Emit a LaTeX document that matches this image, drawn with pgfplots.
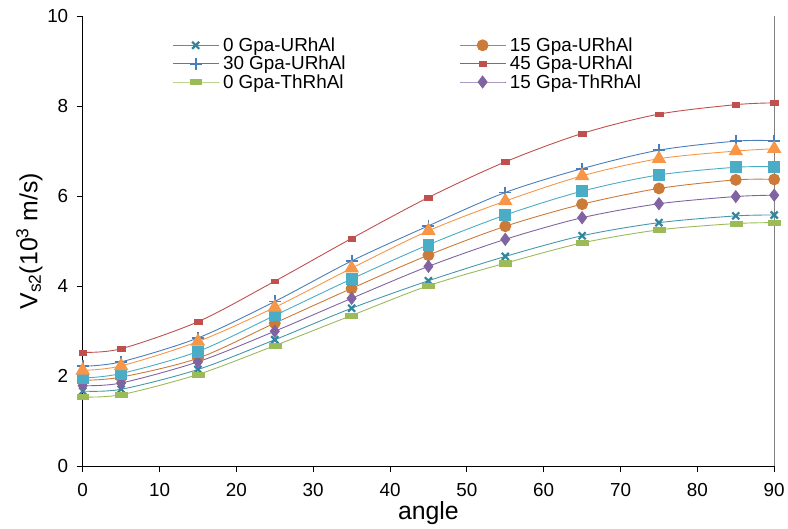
\documentclass[border=0pt]{standalone}
\usepackage{fontspec}
\setmainfont{Liberation Sans}
\usepackage{pgfplots}
\pgfplotsset{compat=1.18}

\definecolor{cTealL}{RGB}{70,150,172}
\definecolor{cTealM}{RGB}{49,133,156}
\definecolor{cBrown}{RGB}{204,122,56}
\definecolor{cBlue}{RGB}{74,126,187}
\definecolor{cRed}{RGB}{192,80,77}
\definecolor{cGreen}{RGB}{155,187,89}
\definecolor{cPurple}{RGB}{128,100,162}
\definecolor{cAqua}{RGB}{75,172,198}
\definecolor{cOrange}{RGB}{247,150,70}

\begin{document}
\begin{tikzpicture}
\begin{axis}[
  scale only axis,
  width=694bp, height=452bp,
  xmin=0, xmax=90, ymin=0, ymax=10,
  xtick={0,10,...,90}, ytick={0,2,...,10},
  axis x line*=bottom, axis y line*=left,
  axis line style={black, line width=0.8bp},
  tick style={black, line width=0.8bp},
  tick align=outside, major tick length=6bp,
  extra x ticks={90}, extra x tick labels={},
  extra x tick style={grid=major, major grid style={gray, line width=1bp}, major tick length=0pt},
  /pgf/number format/assume math mode=true,
  tick label style={font=\fontsize{19}{21}\selectfont},
  yticklabel style={xshift=-5bp},
  xticklabel style={yshift=-8bp},
  label style={font=\fontsize{25}{27}\selectfont},
  xlabel={angle},
  ylabel={V\textsubscript{s2}(10\textsuperscript{3} m/s)},
  xlabel style={yshift=8bp},
  ylabel style={yshift=-2bp},
  every axis plot/.append style={smooth, line width=0.9bp},
  legend columns=2,
  legend cell align=left,
  legend style={draw=none, fill=none, at={(0.125,0.96)}, anchor=north west,
    font=\fontsize{19}{20}\selectfont,
    nodes={inner xsep=4bp, inner ysep=1.6bp},
    /tikz/every even column/.append style={column sep=110bp}},
  legend image code/.code={\draw[mark repeat=2, mark phase=2] plot coordinates {(0bp,0bp) (23bp,0bp) (46bp,0bp)};},
]
% 0 Gpa-URhAl
\addplot[color=cTealL, mark=x, mark size=5bp, mark options={color=cTealM, line width=2.2bp}] coordinates {
 (0,1.67) (5,1.71) (15,2.15) (25,2.81) (35,3.51) (45,4.12) (55,4.66) (65,5.12) (75,5.41) (85,5.56) (90,5.58)};
\addlegendentry{0 Gpa-URhAl}
% 15 Gpa-URhAl
\addplot[color=cBrown, mark=*, mark size=5.5bp, mark options={fill=cBrown, draw=cBrown}] coordinates {
 (0,1.91) (5,1.98) (15,2.40) (25,3.18) (35,3.95) (45,4.69) (55,5.33) (65,5.82) (75,6.17) (85,6.36) (90,6.37)};
\addlegendentry{15 Gpa-URhAl}
% 30 Gpa-URhAl
\addplot[color=cBlue, mark=+, mark size=6bp, mark options={line width=1.8bp}] coordinates {
 (0,2.22) (5,2.32) (15,2.85) (25,3.66) (35,4.56) (45,5.34) (55,6.08) (65,6.61) (75,7.02) (85,7.22) (90,7.23)};
\addlegendentry{30 Gpa-URhAl}
% 45 Gpa-URhAl
\addplot[color=cRed, mark=square*, mark size=2.4bp, mark options={fill=cRed, draw=cRed, xscale=1.6, line width=0.4bp}] coordinates {
 (0,2.53) (5,2.61) (15,3.21) (25,4.11) (35,5.06) (45,5.97) (55,6.76) (65,7.39) (75,7.82) (85,8.03) (90,8.07)};
\addlegendentry{45 Gpa-URhAl}
% 0 Gpa-ThRhAl
\addplot[color=cGreen, mark=square*, mark size=2.6bp, mark options={fill=cGreen, draw=cGreen, xscale=2.3, line width=0.4bp}] coordinates {
 (0,1.54) (5,1.59) (15,2.04) (25,2.68) (35,3.35) (45,4.01) (55,4.51) (65,4.96) (75,5.25) (85,5.39) (90,5.41)};
\addlegendentry{0 Gpa-ThRhAl}
% 15 Gpa-ThRhAl
\addplot[color=cPurple, mark=diamond*, mark size=6bp, mark options={fill=cPurple, draw=cPurple}] coordinates {
 (0,1.79) (5,1.85) (15,2.32) (25,3.00) (35,3.73) (45,4.44) (55,5.04) (65,5.52) (75,5.83) (85,5.99) (90,6.02)};
\addlegendentry{15 Gpa-ThRhAl}
% 30 Gpa-ThRhAl (not in legend)
\addplot[forget plot, color=cAqua, mark=square*, mark size=5.5bp, mark options={fill=cAqua, draw=cAqua}] coordinates {
 (0,1.96) (5,2.06) (15,2.55) (25,3.35) (35,4.16) (45,4.92) (55,5.58) (65,6.11) (75,6.47) (85,6.64) (90,6.65)};
% 45 Gpa-ThRhAl (not in legend)
\addplot[forget plot, color=cOrange, mark=triangle*, mark size=7.5bp, mark options={fill=cOrange, draw=cOrange}] coordinates {
 (0,2.13) (5,2.23) (15,2.77) (25,3.53) (35,4.40) (45,5.23) (55,5.89) (65,6.45) (75,6.83) (85,7.00) (90,7.05)};
\end{axis}
% margins of the reference around the plot area
\path ([xshift=-83bp]current axis.south west) ([yshift=16bp]current axis.north west);
\end{tikzpicture}
\end{document}
